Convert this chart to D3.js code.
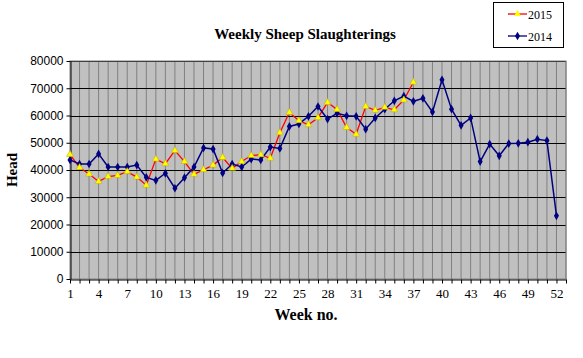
<!DOCTYPE html>
<html><head><meta charset="utf-8">
<script src="https://cdn.jsdelivr.net/npm/d3@7"></script>
<style>body{margin:0;background:#fff}svg{display:block}</style>
</head><body><svg id="c" width="583" height="358"></svg>
<script>
const weeks = d3.range(1, 53);
const xTickLabels = [1,4,7,10,13,16,19,22,25,28,31,34,37,40,43,46,49,52];
const yTickLabels = [0,10000,20000,30000,40000,50000,60000,70000,80000];
const series2015 = [45700,40900,38500,35800,37600,38000,39400,37400,34400,44000,42300,47100,43100,38400,40100,41800,44600,40600,43100,45300,45600,44300,53700,61100,58100,56600,59200,64800,62200,55600,53100,63300,61900,63000,62100,65700,72200];
const series2014 = [43700,42200,42200,45900,41100,41100,41100,41800,37300,36200,38800,33300,37200,41100,48100,47700,38900,42200,41100,44000,43700,48400,47900,56000,56900,59700,63300,58700,60800,59900,59700,55000,59100,62300,65400,67100,65200,66300,61300,73100,62300,56400,59100,43100,49500,45200,49700,49800,50200,51300,50800,23200];
const seriesNames = ["2015","2014"];

const SERIF = '"Liberation Serif","Times New Roman",serif';
const SANS = '"Liberation Sans",Arial,sans-serif';
const svg = d3.select("#c");
const L = 70, R = 566, T = 61, B = 279;
const x = d3.scaleLinear().domain([1, 53]).range([L, R]);
const y = d3.scaleLinear().domain([0, 80000]).range([B, T]);

svg.append("rect").attr("x", L).attr("y", T).attr("width", R - L).attr("height", B - T).attr("fill", "#C0C0C0");
svg.append("g").selectAll("line").data(d3.range(2, 54)).join("line")
  .attr("x1", d => x(d)).attr("x2", d => x(d)).attr("y1", T).attr("y2", B)
  .attr("stroke", "#808080").attr("stroke-width", 1);
svg.append("g").selectAll("line").data(yTickLabels.slice(1)).join("line")
  .attr("x1", L).attr("x2", R).attr("y1", d => Math.round(y(d)) + 0.5).attr("y2", d => Math.round(y(d)) + 0.5)
  .attr("stroke", "#000").attr("stroke-width", 1);
svg.append("rect").attr("x", L).attr("y", T).attr("width", R - L).attr("height", B - T).attr("fill", "none").attr("stroke", "#808080");

const yAxis = d3.axisLeft(y).tickValues(yTickLabels).tickSize(4).tickSizeOuter(0).tickFormat(d3.format("d"));
const gy = svg.append("g").attr("transform", `translate(${L + 0.5},0)`).call(yAxis)
  .attr("font-family", SANS).attr("font-size", 12);
gy.selectAll("text").attr("fill", "#000").attr("x", -7);
gy.select(".domain").attr("stroke", "#000");

const xAxis = d3.axisBottom(x).tickValues(d3.range(1, 54)).tickSize(4).tickSizeOuter(0)
  .tickFormat(d => xTickLabels.includes(d) ? d : "");
const gx = svg.append("g").attr("transform", `translate(0,${B + 0.5})`).call(xAxis)
  .attr("font-family", SERIF).attr("font-size", 13);
gx.selectAll("text").attr("fill", "#000").attr("dy", "0.85em");
gx.select(".domain").attr("stroke", "#000");

const line = d3.line().x((d, i) => x(i + 1)).y(d => y(d));
svg.append("path").datum(series2015).attr("d", line).attr("fill", "none").attr("stroke", "#FF0000").attr("stroke-width", 1.3);
svg.append("path").datum(series2014).attr("d", line).attr("fill", "none").attr("stroke", "#000080").attr("stroke-width", 1.5);

const tri = d3.symbol().type(d3.symbolTriangle).size(20);
const dia = d3.symbol().type(d3.symbolDiamond).size(22);
svg.append("g").selectAll("path").data(series2014).join("path")
  .attr("transform", (d, i) => `translate(${x(i + 1)},${y(d)})`).attr("d", dia).attr("fill", "#000080");
svg.append("g").selectAll("path").data(series2015).join("path")
  .attr("transform", (d, i) => `translate(${x(i + 1)},${y(d)})`).attr("d", tri).attr("fill", "#FFFF00").attr("stroke", "#C8B400").attr("stroke-width", 0.6);

svg.append("text").attr("x", 305).attr("y", 39).attr("text-anchor", "middle").attr("font-family", SERIF).attr("font-size", 15).attr("font-weight", "bold").text("Weekly Sheep Slaughterings");
svg.append("text").attr("transform", "translate(17,170) rotate(-90)").attr("text-anchor", "middle").attr("font-family", SERIF).attr("font-size", 15).attr("font-weight", "bold").text("Head");
svg.append("text").attr("x", 306).attr("y", 320).attr("text-anchor", "middle").attr("font-family", SERIF).attr("font-size", 16).attr("font-weight", "bold").text("Week no.");

const lg = svg.append("g");
lg.append("rect").attr("x", 493.5).attr("y", 2.5).attr("width", 70).attr("height", 45).attr("fill", "#fff").attr("stroke", "#000");
const legendItems = [{n: seriesNames[0], c: "#FF0000", s: tri, f: "#FFFF00", y: 14}, {n: seriesNames[1], c: "#000080", s: dia, f: "#000080", y: 36}];
legendItems.forEach(it => {
  lg.append("line").attr("x1", 508).attr("x2", 527).attr("y1", it.y).attr("y2", it.y).attr("stroke", it.c).attr("stroke-width", 1.3);
  lg.append("path").attr("transform", `translate(517.5,${it.y})`).attr("d", it.s).attr("fill", it.f);
  lg.append("text").attr("x", 528).attr("y", it.y + 4.5).attr("font-family", SERIF).attr("font-size", 12).text(it.n);
});
</script></body></html>
